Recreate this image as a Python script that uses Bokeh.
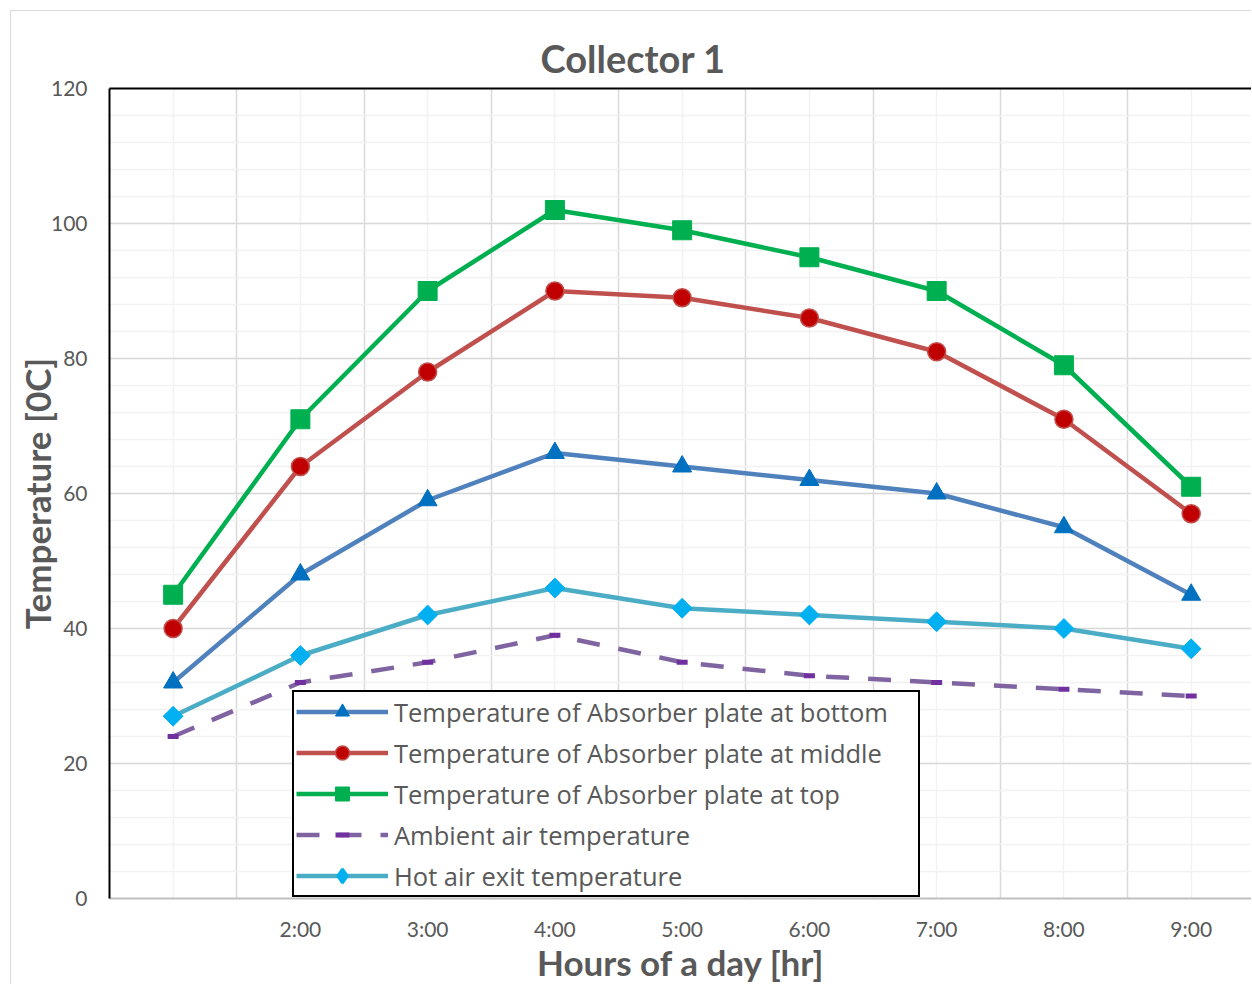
from bokeh.plotting import figure
from bokeh.models import FixedTicker, LinearAxis, Legend, LegendItem, Range1d
from bokeh.embed import file_html
from bokeh.resources import INLINE
import math

# ---- data ----
hours = ["", "2:00", "3:00", "4:00", "5:00", "6:00", "7:00", "8:00", "9:00"]
plate_bottom = [32, 48, 59, 66, 64, 62, 60, 55, 45]
plate_middle = [40, 64, 78, 90, 89, 86, 81, 71, 57]
plate_top = [45, 71, 90, 102, 99, 95, 90, 79, 61]
ambient = [24, 32, 35, 39, 35, 33, 32, 31, 30]
hot_air = [27, 36, 42, 46, 43, 42, 41, 40, 37]
y_ticks = [0, 20, 40, 60, 80, 100, 120]
series_names = [
    "Temperature of Absorber plate at bottom",
    "Temperature of Absorber plate at middle",
    "Temperature of Absorber plate at top",
    "Ambient air temperature",
    "Hot air exit temperature",
]

x = list(range(len(hours)))
TXT = "#595959"

p = figure(width=1241, height=974, output_backend="svg", toolbar_location=None,
           x_range=Range1d(-0.5, 8.482), y_range=Range1d(0, 120),
           min_border_left=98, min_border_right=0, min_border_top=77, min_border_bottom=87,
           background_fill_color="white", border_fill_color="white")
p.styles = {"margin-left": "10px", "margin-top": "10px",
            "border-left": "1px solid #D9D9D9", "border-top": "1px solid #D9D9D9"}
p.outline_line_color = None

# title
p.title.text = "Collector 1"
p.title.text_font = "Lato"
p.title.text_font_style = "bold"
p.title.text_font_size = "38px"
p.title.text_line_height = 1.0
p.title.text_color = TXT
p.title.align = "left"
p.title.offset = 431
p.title.standoff = 16

# grids
p.xgrid.ticker = FixedTicker(ticks=[i - 0.5 for i in x] + [len(x) - 0.5], minor_ticks=x)
p.xgrid.grid_line_color = "#D9D9D9"
p.xgrid.grid_line_width = 1.5
p.xgrid.minor_grid_line_color = "#F2F2F2"
p.xgrid.minor_grid_line_width = 1.5
p.ygrid.ticker = FixedTicker(ticks=y_ticks, minor_ticks=list(range(0, 121, 4)))
p.ygrid.grid_line_color = "#D9D9D9"
p.ygrid.grid_line_width = 1.5
p.ygrid.minor_grid_line_color = "#F2F2F2"
p.ygrid.minor_grid_line_width = 1.5

# axes
xa = p.xaxis[0]
xa.ticker = FixedTicker(ticks=x)
xa.major_label_overrides = {i: h for i, h in zip(x, hours)}
xa.axis_label = "Hours of a day [hr]"
ya = p.yaxis[0]
ya.ticker = FixedTicker(ticks=y_ticks)
ya.axis_label = "Temperature [0C]"
for ax in (xa, ya):
    ax.major_tick_line_color = None
    ax.minor_tick_line_color = None
    ax.major_label_text_font = "Lato"
    ax.major_label_text_font_size = "21px"
    ax.major_label_text_line_height = 1.0
    ax.major_label_text_color = TXT
    ax.axis_label_text_font = "Lato"
    ax.axis_label_text_font_style = "bold"
    ax.axis_label_text_font_size = "35px"
    ax.axis_label_text_line_height = 1.0
    ax.axis_label_text_color = TXT
xa.axis_line_color = "#BFBFBF"
xa.axis_line_width = 2
xa.major_label_standoff = 11
xa.axis_label_standoff = -3
ya.axis_line_color = "black"
ya.axis_line_width = 2
ya.major_label_standoff = 16
ya.axis_label_standoff = -10

top_axis = LinearAxis(ticker=FixedTicker(ticks=[]), axis_line_color="black", axis_line_width=2,
                      major_tick_line_color=None, minor_tick_line_color=None,
                      major_label_text_font_size="0px")
p.add_layout(top_axis, "above")

# series
LW = 4.5
l1 = p.line(x, plate_bottom, line_color="#4F81BD", line_width=LW, line_join="round")
m1 = p.scatter(x, plate_bottom, marker="triangle", size=19, fill_color="#0070C0", line_color="#0070C0")
l2 = p.line(x, plate_middle, line_color="#C0504D", line_width=LW, line_join="round")
m2 = p.scatter(x, plate_middle, marker="circle", size=18, fill_color="#C00000", line_color="#C0504D", line_width=1.5)
l3 = p.line(x, plate_top, line_color="#00B050", line_width=LW, line_join="round")
m3 = p.scatter(x, plate_top, marker="square", size=19, fill_color="#00B050", line_color="#00B050")
l4 = p.line(x, ambient, line_color="#8064A2", line_width=LW, line_dash="23 19", line_join="round")
m4 = p.scatter(x, ambient, marker="dash", size=11, line_color="#7030A0", line_width=5)
l5 = p.line(x, hot_air, line_color="#4BACC6", line_width=LW, line_join="round")
m5 = p.scatter(x, hot_air, marker="square", size=14, angle=math.pi / 4,
               fill_color="#00B0F0", line_color="#00B0F0")
# legend-only diamond (legend glyphs ignore marker angle)
m5_leg = p.scatter(x, hot_air, marker="diamond", size=20, fill_color="#00B0F0",
                   line_color="#00B0F0", line_width=3, visible=False)

items = [LegendItem(label=n, renderers=r) for n, r in
         zip(series_names, [[l1, m1], [l2, m2], [l3, m3], [l4, m4], [l5, m5_leg]])]
legend = Legend(items=items, location=(183, 1), orientation="vertical",
                glyph_width=92, glyph_height=35, label_height=35, spacing=6,
                padding=2, margin=0, label_standoff=6, label_width=522,
                label_text_font="Open Sans", label_text_font_size="25.5px",
                label_text_color=TXT, border_line_color="black", border_line_width=2,
                border_line_alpha=1.0,
                background_fill_color="white", background_fill_alpha=1.0)
p.add_layout(legend, "center")

open("out.html", "w").write(file_html(p, INLINE))
